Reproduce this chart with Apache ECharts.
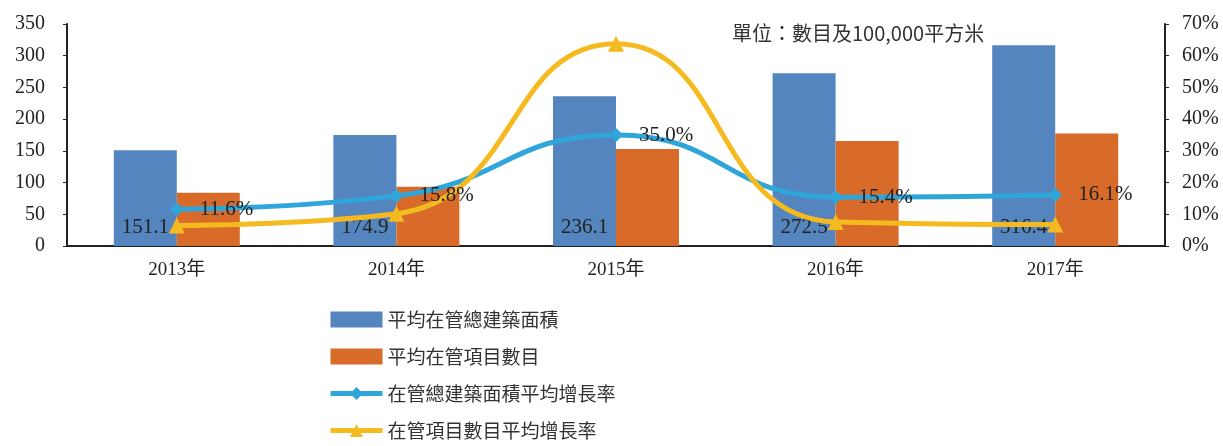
<!DOCTYPE html>
<html>
<head>
<meta charset="utf-8">
<script src="https://cdn.jsdelivr.net/npm/echarts@6/dist/echarts.min.js"></script>
<style>
  html, body { margin: 0; padding: 0; background: #fff; }
  #chart { width: 1223px; height: 446px; }
</style>
</head>
<body>
<div id="chart"></div>
<script type="text/javascript">
    var years = ['2013年', '2014年', '2015年', '2016年', '2017年'];
    var areaAvg = [151.1, 174.9, 236.1, 272.5, 316.4];          // 平均在管總建築面積
    var projectAvg = [84, 93.5, 153, 165.5, 177.5];            // 平均在管項目數目
    var areaGrowth = [11.6, 15.8, 35.0, 15.4, 16.1];           // 在管總建築面積平均增長率
    var projectGrowth = [6.5, 10.2, 63.8, 7.6, 6.8];           // 在管項目數目平均增長率
    var leftTicks = [0, 50, 100, 150, 200, 250, 300, 350];
    var rightTicks = [0, 10, 20, 30, 40, 50, 60, 70];

    var serif = '"Liberation Serif", "Noto Sans CJK TC", serif';
    var cjk = '"Noto Sans CJK TC", sans-serif';

    var myChart = echarts.init(document.getElementById('chart'));
    var option = {
        animation: false,
        textStyle: { fontFamily: serif, color: '#222' },
        title: {
            text: '單位：數目及100,000平方米',
            left: 727,
            top: 18,
            textStyle: { fontFamily: cjk, fontSize: 20, fontWeight: 'normal', color: '#333' }
        },
        grid: { left: 67, right: 58, top: 24, bottom: 200 },
        legend: {
            orient: 'vertical',
            left: 328,
            top: 310,
            padding: 0,
            itemGap: 18,
            itemWidth: 52,
            itemHeight: 16,
            lineStyle: { width: 5 },
            textStyle: { fontFamily: cjk, fontSize: 19, color: '#333' },
            data: [
                { name: '平均在管總建築面積', icon: 'rect' },
                { name: '平均在管項目數目', icon: 'rect' },
                { name: '在管總建築面積平均增長率' },
                { name: '在管項目數目平均增長率' }
            ]
        },
        xAxis: {
            type: 'category',
            data: years,
            axisLine: { lineStyle: { color: '#222', width: 2 } },
            axisTick: { show: false },
            axisLabel: { fontFamily: serif, fontSize: 19, color: '#222', margin: 15 }
        },
        yAxis: [
            {
                type: 'value',
                min: leftTicks[0],
                max: leftTicks[leftTicks.length - 1],
                interval: 50,
                splitLine: { show: false },
                axisLine: { show: true, lineStyle: { color: '#222', width: 2 } },
                axisTick: { show: true, length: 4, lineStyle: { color: '#222' } },
                axisLabel: { fontFamily: serif, fontSize: 20, color: '#222', margin: 22 }
            },
            {
                type: 'value',
                min: rightTicks[0],
                max: rightTicks[rightTicks.length - 1],
                interval: 10,
                splitLine: { show: false },
                axisLine: { show: true, lineStyle: { color: '#222', width: 2 } },
                axisTick: { show: true, length: 4, lineStyle: { color: '#222' } },
                axisLabel: { fontFamily: serif, fontSize: 20, color: '#222', margin: 17, formatter: '{value}%' }
            }
        ],
        series: [
            {
                name: '平均在管總建築面積',
                type: 'bar',
                data: areaAvg,
                barWidth: 63,
                barGap: '0%',
                itemStyle: { color: '#5585BE' },
                label: {
                    show: true,
                    position: 'insideBottom',
                    distance: 8,
                    fontFamily: serif,
                    fontSize: 21,
                    color: '#222'
                }
            },
            {
                name: '平均在管項目數目',
                type: 'bar',
                data: projectAvg,
                barWidth: 63,
                itemStyle: { color: '#D86B2A' }
            },
            {
                name: '在管總建築面積平均增長率',
                type: 'line',
                yAxisIndex: 1,
                data: areaGrowth,
                smooth: 0.5,
                symbol: 'diamond',
                symbolSize: 14,
                lineStyle: { color: '#2EA6D9', width: 5 },
                itemStyle: { color: '#2EA6D9' },
                label: {
                    show: true,
                    position: 'right',
                    distance: 16,
                    fontFamily: serif,
                    fontSize: 21,
                    color: '#222',
                    formatter: function (p) { return p.value.toFixed(1) + '%'; }
                }
            },
            {
                name: '在管項目數目平均增長率',
                type: 'line',
                yAxisIndex: 1,
                data: projectGrowth,
                smooth: 0.5,
                symbol: 'triangle',
                symbolSize: 16,
                lineStyle: { color: '#F5BA1F', width: 5 },
                itemStyle: { color: '#F5BA1F' }
            }
        ]
    };
    myChart.setOption(option);
</script>
</body>
</html>
